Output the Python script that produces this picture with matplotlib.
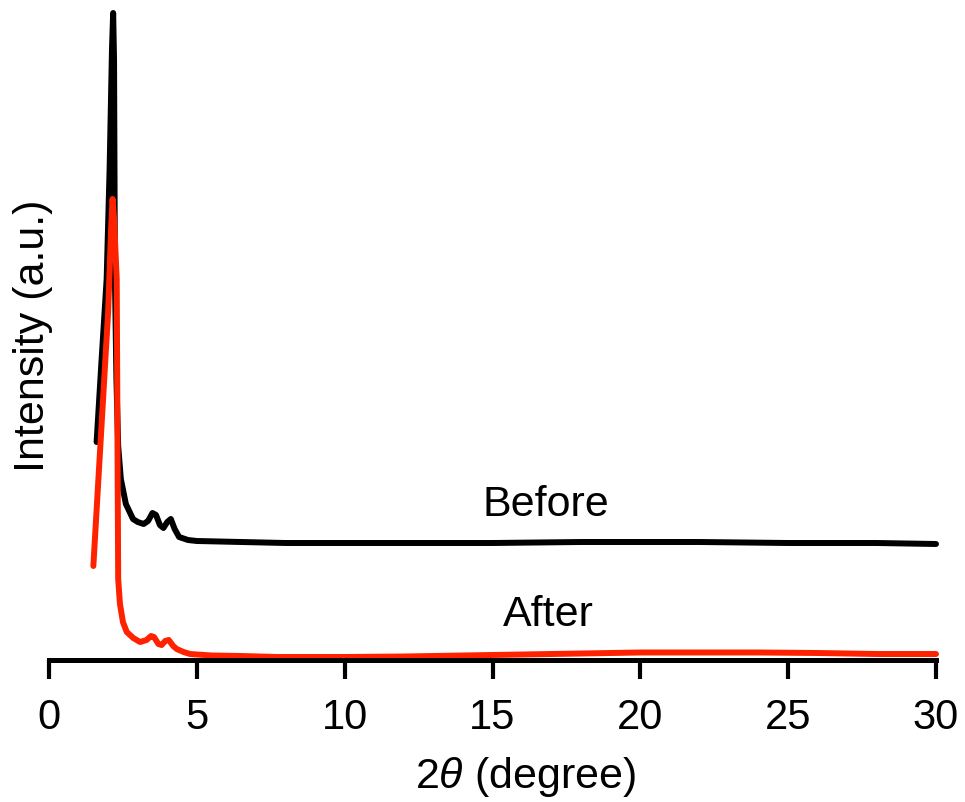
import matplotlib
matplotlib.use("Agg")
import matplotlib.pyplot as plt

plt.rcParams['font.family'] = ['Liberation Sans', 'DejaVu Sans']
plt.rcParams['mathtext.fontset'] = 'custom'
plt.rcParams['mathtext.it'] = 'Liberation Sans:italic'

# XRD patterns (intensity in arbitrary units)
two_theta_before = [1.61, 1.78, 1.95, 2.05, 2.13, 2.17, 2.20, 2.23, 2.28, 2.34, 2.43,
                    2.6, 2.84, 3.0, 3.2, 3.35, 3.5, 3.62, 3.75, 3.87,
                    4.0, 4.12, 4.25, 4.4, 4.7, 5.0, 6.5, 8, 10, 12, 15, 18, 20, 22, 25, 28, 30]
intensity_before = [218, 301, 381, 491, 611, 647, 600, 381, 281, 214, 181,
                    156, 141, 138, 136, 139, 147, 145, 135, 132,
                    138, 141, 131, 123, 120, 119, 118, 117, 117, 117, 117, 118, 118, 118, 117, 117, 116]

two_theta_after = [1.50, 1.75, 2.0, 2.10, 2.15, 2.20, 2.29, 2.34, 2.40, 2.5, 2.63,
                   2.85, 3.08, 3.3, 3.45, 3.55, 3.7, 3.81, 3.93, 4.05,
                   4.2, 4.32, 4.55, 4.77, 5.5, 6.5, 7.7, 9, 10, 12, 14, 16, 18, 20, 22, 24,
                   26, 28, 30]
intensity_after = [94, 221, 348, 431, 461, 441, 381, 81, 56, 38, 28,
                   22, 18, 20, 24, 23, 16, 15, 19, 20,
                   14, 11, 8, 6, 4.5, 4, 3, 3, 3, 3.5, 4.5, 5.5, 6.5, 7.5, 7.5, 7.5,
                   7, 6, 6]

x_ticks = [0, 5, 10, 15, 20, 25, 30]

fig = plt.figure(figsize=(9.65, 8.03), dpi=100)
ax = fig.add_axes([49 / 965, 142 / 803, 887 / 965, 651 / 803])

ax.plot(two_theta_before, intensity_before, color='black', lw=4.3,
        solid_joinstyle='round', solid_capstyle='round', clip_on=False)
ax.plot(two_theta_after, intensity_after, color='#ff2200', lw=4.3,
        solid_joinstyle='round', solid_capstyle='round', clip_on=False)

ax.text(16.8, 156, 'Before', fontsize=31, ha='center', va='center')
ax.text(16.9, 46, 'After', fontsize=31, ha='center', va='center')

ax.set_xlim(0, 30)
ax.set_ylim(0, 651)
for side in ['top', 'right', 'left']:
    ax.spines[side].set_visible(False)
ax.spines['bottom'].set_linewidth(3.6)
ax.spines['bottom'].set_capstyle('projecting')
ax.set_yticks([])
ax.set_xticks(x_ticks)
ax.tick_params(axis='x', direction='out', length=14, width=3, pad=13, labelsize=30)

ax.set_xlabel(r'2$\it{\theta}$ (degree)', fontsize=31)
ax.xaxis.set_label_coords(0.537, -0.145)
ax.set_ylabel('Intensity (a.u.)', fontsize=31, labelpad=-3)

fig.savefig('out.png', dpi=100)
